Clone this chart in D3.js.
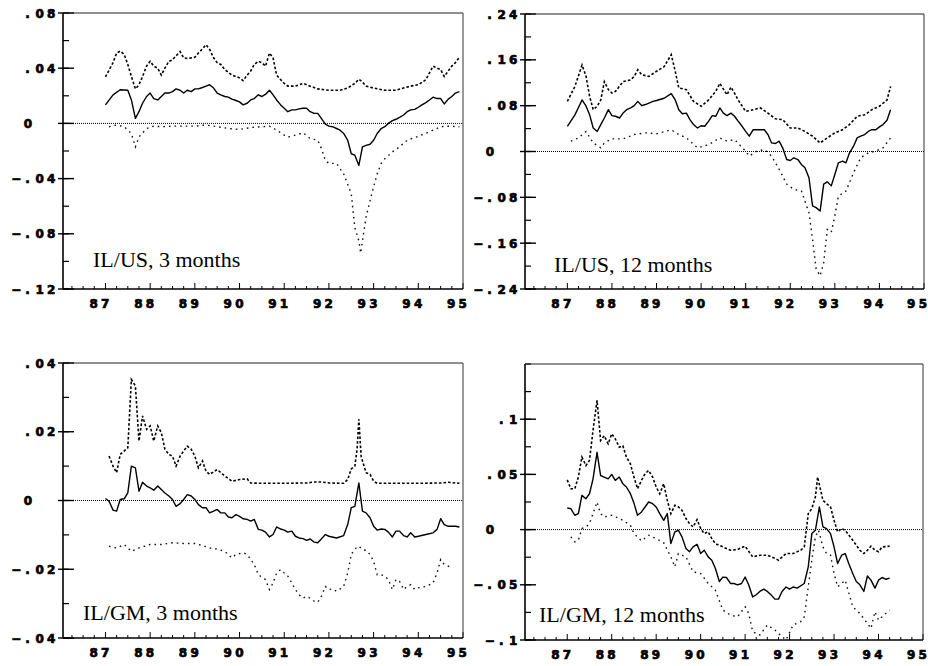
<!DOCTYPE html>
<html>
<head>
<meta charset="utf-8">
<script src="https://cdn.jsdelivr.net/npm/d3@7"></script>
<style>
  body { margin: 0; background: #fff; }
  svg { display: block; }
</style>
</head>
<body>
<svg id="chart" width="928" height="666"></svg>
<script>
// Year ticks shared by all four panels
const yearTicks = [87, 88, 89, 90, 91, 92, 93, 94, 95];

// Panel titles
const panelTitles = ["IL/US, 3 months", "IL/US, 12 months", "IL/GM, 3 months", "IL/GM, 12 months"];

// Y-axis ranges and labelled ticks
const yDomains = [[-0.12, 0.08], [-0.24, 0.24], [-0.04, 0.04], [-0.1, 0.15]];
const yMajorTicks = [
  [-0.12, -0.08, -0.04, 0, 0.04, 0.08],
  [-0.24, -0.16, -0.08, 0, 0.08, 0.16, 0.24],
  [-0.04, -0.02, 0, 0.02, 0.04],
  [-0.1, -0.05, 0, 0.05, 0.1]
];
const yMinorStep = [0.02, 0.04, 0.01, 0.025];

// IL/US, 3 months: estimate, upper band, lower band  ([year, value])
const usMid3 = [[87.0,.0134],[87.17,.0207],[87.33,.0244],[87.5,.024],[87.58,.017],[87.67,.0037],[87.75,.0085],[87.83,.0146],[87.92,.0195],[88.0,.022],[88.08,.018],[88.17,.017],[88.25,.0195],[88.33,.022],[88.42,.022],[88.5,.023],[88.58,.025],[88.67,.024],[88.75,.022],[88.83,.024],[88.92,.023],[89.0,.025],[89.08,.025],[89.17,.026],[89.25,.027],[89.33,.028],[89.42,.0256],[89.5,.022],[89.58,.0207],[89.67,.0195],[89.75,.019],[89.83,.0176],[89.92,.0166],[90.0,.0156],[90.08,.0134],[90.17,.0146],[90.25,.017],[90.33,.018],[90.42,.0207],[90.5,.0195],[90.58,.021],[90.67,.024],[90.75,.0207],[90.83,.017],[90.92,.0134],[91.0,.011],[91.08,.0085],[91.17,.0098],[91.25,.0098],[91.33,.0105],[91.42,.011],[91.5,.011],[91.58,.0085],[91.67,.0073],[91.75,.0073],[91.83,.0037],[91.92,-.0005],[92.0,-.002],[92.08,-.0024],[92.17,-.0037],[92.25,-.0049],[92.33,-.0073],[92.42,-.0122],[92.5,-.022],[92.58,-.023],[92.67,-.0305],[92.75,-.017],[92.83,-.0159],[92.92,-.0151],[93.0,-.0122],[93.08,-.0073],[93.17,-.0037],[93.25,-.0024],[93.33,0],[93.42,.002],[93.5,.003],[93.58,.0044],[93.67,.0061],[93.75,.0085],[93.83,.0098],[93.92,.0102],[94.0,.0117],[94.08,.0134],[94.17,.0151],[94.25,.017],[94.33,.019],[94.42,.018],[94.5,.018],[94.58,.0141],[94.67,.0176],[94.75,.0195],[94.83,.022],[94.92,.023]];
const usUp3 = [[87.0,.0337],[87.17,.044],[87.25,.051],[87.33,.0524],[87.42,.05],[87.5,.0427],[87.58,.034],[87.67,.025],[87.75,.028],[87.83,.034],[87.92,.0415],[88.0,.045],[88.08,.0415],[88.17,.04],[88.25,.035],[88.33,.04],[88.42,.045],[88.5,.046],[88.58,.049],[88.67,.052],[88.75,.0475],[88.83,.047],[88.92,.0475],[89.0,.048],[89.08,.051],[89.17,.054],[89.25,.057],[89.33,.0537],[89.42,.0475],[89.5,.044],[89.58,.0427],[89.67,.039],[89.83,.035],[90.0,.033],[90.08,.031],[90.17,.035],[90.25,.038],[90.33,.0427],[90.42,.045],[90.5,.044],[90.58,.0415],[90.67,.051],[90.75,.0475],[90.83,.035],[90.92,.0317],[91.0,.029],[91.08,.027],[91.25,.027],[91.42,.029],[91.58,.027],[91.75,.025],[92.0,.024],[92.25,.024],[92.42,.0256],[92.58,.029],[92.67,.032],[92.75,.03],[92.83,.027],[93.0,.0256],[93.25,.024],[93.5,.024],[93.67,.0256],[93.83,.027],[94.0,.028],[94.17,.0317],[94.33,.0415],[94.42,.04],[94.5,.039],[94.58,.034],[94.67,.038],[94.75,.0415],[94.83,.044],[94.92,.048]];
const usLo3 = [[87.08,-.0024],[87.25,-.0012],[87.42,-.0024],[87.58,-.0073],[87.67,-.017],[87.75,-.0098],[87.92,-.0037],[88.08,-.002],[88.25,-.0024],[88.5,-.002],[88.75,-.002],[89.0,-.002],[89.25,-.0012],[89.5,-.0024],[89.75,-.0037],[90.0,-.0044],[90.25,-.003],[90.5,-.0024],[90.67,-.002],[90.83,-.0049],[91.0,-.0085],[91.08,-.01],[91.25,-.0085],[91.42,-.0068],[91.58,-.011],[91.75,-.0122],[91.83,-.018],[91.92,-.0268],[92.0,-.029],[92.17,-.029],[92.33,-.0366],[92.5,-.051],[92.58,-.0756],[92.67,-.085],[92.71,-.094],[92.83,-.068],[92.92,-.056],[93.0,-.046],[93.08,-.0366],[93.17,-.029],[93.25,-.0256],[93.42,-.0207],[93.58,-.017],[93.75,-.0122],[94.0,-.0093],[94.25,-.0061],[94.5,-.0024],[94.67,-.002],[94.92,-.0024]];

// IL/US, 12 months
const usMid12 = [[87.0,.044],[87.17,.064],[87.33,.09],[87.42,.079],[87.5,.064],[87.58,.041],[87.67,.035],[87.75,.047],[87.83,.0585],[87.92,.073],[88.0,.0626],[88.08,.0615],[88.17,.0585],[88.25,.067],[88.33,.073],[88.42,.076],[88.5,.08],[88.58,.0875],[88.67,.08],[88.75,.082],[88.83,.0846],[88.92,.0875],[89.0,.089],[89.17,.093],[89.33,.101],[89.42,.09],[89.5,.073],[89.58,.066],[89.67,.067],[89.75,.0557],[89.83,.047],[89.92,.041],[90.0,.045],[90.08,.044],[90.17,.053],[90.25,.0626],[90.33,.0615],[90.42,.076],[90.5,.067],[90.58,.0626],[90.67,.067],[90.75,.0615],[90.83,.053],[90.92,.044],[91.0,.035],[91.08,.0267],[91.17,.038],[91.25,.038],[91.42,.038],[91.5,.0296],[91.58,.015],[91.67,.014],[91.75,.018],[91.83,.0064],[91.92,-.014],[92.0,-.0157],[92.08,-.011],[92.17,-.014],[92.25,-.0226],[92.33,-.0284],[92.42,-.0458],[92.5,-.095],[92.58,-.098],[92.67,-.104],[92.75,-.057],[92.83,-.053],[92.92,-.06],[93.0,-.04],[93.08,-.0197],[93.17,-.0168],[93.25,-.0197],[93.33,-.0023],[93.42,.0093],[93.5,.0238],[93.58,.0267],[93.67,.0296],[93.75,.035],[93.83,.038],[93.92,.038],[94.0,.043],[94.08,.047],[94.17,.0545],[94.25,.073]];
const usUp12 = [[87.0,.0875],[87.17,.1136],[87.33,.151],[87.42,.131],[87.5,.096],[87.58,.073],[87.67,.079],[87.75,.09],[87.83,.122],[87.92,.108],[88.0,.102],[88.08,.105],[88.25,.122],[88.42,.125],[88.5,.131],[88.58,.1426],[88.67,.134],[88.83,.131],[89.0,.14],[89.17,.148],[89.33,.169],[89.42,.14],[89.5,.111],[89.67,.108],[89.83,.0875],[90.0,.079],[90.17,.09],[90.33,.105],[90.42,.119],[90.5,.109],[90.58,.099],[90.67,.1125],[90.75,.102],[90.83,.09],[91.0,.07],[91.17,.073],[91.33,.076],[91.5,.067],[91.67,.057],[91.83,.0557],[92.0,.041],[92.17,.041],[92.33,.035],[92.5,.0267],[92.67,.015],[92.83,.0238],[93.0,.0325],[93.17,.038],[93.33,.047],[93.5,.0615],[93.67,.064],[93.83,.073],[94.0,.079],[94.17,.09],[94.25,.1136]];
const usLo12 = [[87.08,.018],[87.25,.0238],[87.42,.035],[87.58,.015],[87.75,.0064],[87.83,.015],[88.0,.022],[88.25,.022],[88.5,.0296],[88.75,.0325],[89.0,.031],[89.33,.038],[89.5,.0296],[89.67,.0238],[89.92,.0064],[90.17,.012],[90.42,.0238],[90.58,.018],[90.75,.021],[91.0,.0006],[91.08,-.008],[91.25,.0006],[91.42,.0035],[91.58,-.008],[91.75,-.031],[91.92,-.057],[92.08,-.066],[92.25,-.069],[92.42,-.107],[92.5,-.153],[92.58,-.205],[92.67,-.217],[92.75,-.194],[92.83,-.136],[92.92,-.141],[93.0,-.112],[93.08,-.078],[93.25,-.069],[93.42,-.037],[93.58,-.011],[93.75,-.0023],[93.92,.0006],[94.08,.0064],[94.25,.0238]];

// IL/GM, 3 months
const gmMid3 = [[87.0,.0006],[87.08,-.0002],[87.17,-.0028],[87.25,-.0031],[87.33,.0003],[87.42,.0005],[87.5,.0022],[87.58,.01],[87.67,.0095],[87.75,.0027],[87.83,.0053],[87.92,.0042],[88.0,.0037],[88.08,.003],[88.17,.0042],[88.25,.0032],[88.33,.0022],[88.42,.0013],[88.5,.0003],[88.58,-.0017],[88.67,-.0009],[88.75,.0003],[88.83,.0017],[88.92,.0013],[89.0,.0003],[89.08,-.0012],[89.17,-.0021],[89.25,-.0021],[89.33,-.0036],[89.42,-.0031],[89.5,-.0026],[89.58,-.0036],[89.67,-.0036],[89.75,-.0048],[89.83,-.005],[89.92,-.0041],[90.0,-.0046],[90.08,-.0053],[90.17,-.0055],[90.25,-.006],[90.33,-.0055],[90.42,-.0084],[90.5,-.0086],[90.58,-.0092],[90.67,-.0106],[90.75,-.0099],[90.83,-.0077],[90.92,-.0083],[91.0,-.0086],[91.08,-.0092],[91.17,-.0089],[91.25,-.0104],[91.33,-.0109],[91.42,-.0111],[91.5,-.0116],[91.58,-.0112],[91.67,-.0121],[91.75,-.0123],[91.83,-.0112],[91.92,-.0099],[92.0,-.0104],[92.17,-.0109],[92.33,-.0102],[92.42,-.007],[92.5,-.0021],[92.58,-.0017],[92.67,.0051],[92.75,-.0031],[92.83,-.0036],[92.92,-.005],[93.0,-.0075],[93.08,-.0086],[93.17,-.0083],[93.25,-.0084],[93.33,-.0092],[93.42,-.0106],[93.5,-.0089],[93.58,-.0089],[93.67,-.0102],[93.75,-.0106],[93.83,-.0094],[93.92,-.0106],[94.0,-.0104],[94.17,-.0099],[94.33,-.0094],[94.42,-.0084],[94.5,-.0053],[94.58,-.007],[94.67,-.0075],[94.83,-.0075],[94.92,-.0077]];
const gmUp3 = [[87.08,.0129],[87.17,.01],[87.25,.0081],[87.33,.0134],[87.5,.0153],[87.58,.0352],[87.67,.0333],[87.75,.0173],[87.83,.0246],[87.92,.0207],[88.0,.0217],[88.08,.0173],[88.17,.0217],[88.25,.0197],[88.33,.0149],[88.42,.0134],[88.5,.0129],[88.58,.01],[88.67,.0129],[88.75,.0144],[88.83,.0158],[88.92,.0149],[89.0,.0129],[89.08,.0095],[89.17,.0115],[89.25,.0085],[89.33,.0076],[89.5,.009],[89.67,.0071],[89.83,.0056],[90.0,.0061],[90.17,.0063],[90.25,.0051],[90.5,.005],[91.0,.005],[91.5,.0051],[91.67,.0054],[91.83,.0054],[92.0,.0051],[92.33,.005],[92.42,.0061],[92.5,.0092],[92.58,.01],[92.63,.0149],[92.67,.0236],[92.72,.0129],[92.83,.0081],[92.92,.0076],[93.0,.0056],[93.08,.005],[93.5,.005],[94.0,.005],[94.5,.0051],[94.67,.0053],[94.92,.005]];
const gmLo3 = [[87.08,-.0133],[87.25,-.0138],[87.42,-.0128],[87.58,-.0148],[87.75,-.0138],[88.0,-.0128],[88.25,-.0128],[88.5,-.0123],[88.75,-.0125],[89.0,-.0125],[89.17,-.0131],[89.33,-.0138],[89.5,-.0141],[89.67,-.0148],[89.83,-.0167],[89.92,-.0157],[90.08,-.0152],[90.17,-.0157],[90.25,-.0172],[90.33,-.0186],[90.42,-.0216],[90.58,-.023],[90.67,-.0259],[90.75,-.024],[90.83,-.0211],[90.92,-.0201],[91.0,-.0211],[91.08,-.022],[91.17,-.024],[91.25,-.0259],[91.33,-.0274],[91.42,-.0284],[91.5,-.0279],[91.58,-.0284],[91.67,-.0293],[91.75,-.0296],[91.83,-.0279],[91.92,-.025],[92.0,-.0259],[92.08,-.0257],[92.17,-.0264],[92.33,-.025],[92.42,-.0211],[92.5,-.0157],[92.58,-.0141],[92.67,-.0133],[92.75,-.0143],[92.83,-.0145],[92.92,-.0157],[93.0,-.0177],[93.08,-.0216],[93.17,-.0216],[93.25,-.022],[93.33,-.023],[93.42,-.0259],[93.5,-.023],[93.58,-.0235],[93.67,-.0259],[93.75,-.025],[93.83,-.0245],[93.92,-.0259],[94.0,-.0254],[94.17,-.025],[94.33,-.024],[94.42,-.0211],[94.5,-.0172],[94.58,-.0186],[94.67,-.0191],[94.75,-.0196]];

// IL/GM, 12 months
const gmMid12 = [[87.0,.0196],[87.08,.019],[87.17,.013],[87.25,.0145],[87.33,.031],[87.42,.028],[87.5,.0325],[87.58,.046],[87.67,.07],[87.75,.049],[87.83,.0476],[87.92,.046],[88.0,.05],[88.08,.0446],[88.17,.0476],[88.25,.0416],[88.33,.0386],[88.42,.0325],[88.5,.024],[88.58,.013],[88.67,.016],[88.75,.0205],[88.83,.025],[88.92,.0235],[89.0,.0205],[89.08,.0145],[89.17,.0084],[89.25,.0145],[89.33,-.0127],[89.42,-.002],[89.5,-.0006],[89.58,-.0066],[89.67,-.0172],[89.75,-.02],[89.83,-.0157],[89.92,-.0133],[90.0,-.0217],[90.08,-.0187],[90.17,-.0247],[90.25,-.0277],[90.33,-.035],[90.42,-.047],[90.5,-.043],[90.58,-.0434],[90.67,-.0488],[90.75,-.0488],[90.83,-.05],[90.92,-.0488],[91.0,-.043],[91.08,-.05],[91.17,-.061],[91.25,-.059],[91.33,-.056],[91.42,-.054],[91.5,-.056],[91.58,-.059],[91.67,-.063],[91.75,-.063],[91.83,-.056],[91.92,-.052],[92.0,-.054],[92.08,-.052],[92.17,-.053],[92.33,-.0488],[92.42,-.0337],[92.5,-.0036],[92.58,-.0006],[92.67,.0205],[92.75,.0024],[92.83,.0009],[92.92,-.0036],[93.0,-.0157],[93.08,-.0307],[93.17,-.0232],[93.25,-.0217],[93.33,-.0307],[93.42,-.0398],[93.5,-.047],[93.58,-.05],[93.67,-.056],[93.75,-.042],[93.83,-.0458],[93.92,-.053],[94.0,-.0458],[94.08,-.0434],[94.17,-.045],[94.25,-.044]];
const gmUp12 = [[87.0,.045],[87.08,.037],[87.17,.037],[87.25,.0476],[87.33,.0657],[87.42,.058],[87.5,.0627],[87.58,.09],[87.67,.117],[87.75,.0807],[87.83,.085],[87.92,.0777],[88.0,.0867],[88.08,.0822],[88.17,.0747],[88.25,.076],[88.33,.0657],[88.42,.0596],[88.5,.0476],[88.58,.037],[88.67,.0446],[88.75,.0506],[88.83,.0536],[88.92,.0476],[89.0,.0386],[89.08,.0325],[89.17,.0416],[89.25,.0265],[89.33,.0145],[89.42,.022],[89.5,.0205],[89.58,.0175],[89.67,.01],[89.75,.0054],[89.83,.0024],[89.92,.009],[90.0,.001],[90.08,-.0036],[90.17,-.002],[90.25,-.0081],[90.33,-.0127],[90.5,-.0157],[90.67,-.0187],[90.83,-.018],[91.0,-.015],[91.17,-.0247],[91.33,-.0232],[91.5,-.0232],[91.67,-.026],[91.75,-.0277],[91.92,-.0217],[92.08,-.0217],[92.25,-.0187],[92.33,-.0157],[92.42,.0145],[92.5,.019],[92.58,.0295],[92.63,.0476],[92.75,.0265],[92.83,.0235],[92.92,.0205],[93.0,.0084],[93.08,-.002],[93.17,.001],[93.25,-.0006],[93.42,-.0096],[93.58,-.0187],[93.67,-.0217],[93.75,-.0187],[93.83,-.015],[93.92,-.0187],[94.0,-.02],[94.08,-.0157],[94.25,-.015]];
const gmLo12 = [[87.08,-.0066],[87.17,-.0111],[87.25,-.0096],[87.33,.001],[87.42,.0024],[87.5,.0054],[87.58,.0145],[87.67,.025],[87.75,.0145],[87.83,.0114],[88.0,.013],[88.17,.01],[88.25,.0084],[88.42,.0039],[88.5,-.0036],[88.67,-.0102],[88.83,-.0051],[89.0,-.0081],[89.17,-.012],[89.33,-.0247],[89.42,-.0337],[89.5,-.0217],[89.67,-.0247],[89.83,-.0383],[90.0,-.0398],[90.17,-.0488],[90.33,-.0548],[90.5,-.0729],[90.67,-.0774],[90.83,-.079],[91.0,-.0699],[91.08,-.076],[91.17,-.0925],[91.33,-.0955],[91.5,-.0864],[91.67,-.091],[91.83,-.097],[91.92,-.1],[92.08,-.0864],[92.25,-.0834],[92.33,-.079],[92.42,-.0518],[92.5,-.0277],[92.58,-.0066],[92.65,-.0006],[92.75,-.0157],[92.83,-.0217],[92.92,-.0232],[93.0,-.0398],[93.08,-.0518],[93.17,-.0488],[93.25,-.0458],[93.42,-.0699],[93.58,-.076],[93.75,-.085],[93.83,-.0895],[93.92,-.0744],[94.0,-.082],[94.08,-.079],[94.25,-.0729]];

const panelSeries = [
  { mid: usMid3, up: usUp3, lo: usLo3 },
  { mid: usMid12, up: usUp12, lo: usLo12 },
  { mid: gmMid3, up: gmUp3, lo: gmLo3 },
  { mid: gmMid12, up: gmUp12, lo: gmLo12 }
];

// Frame boxes for the 2x2 grid
const frames = [
  { left: 63, right: 463, top: 13, bottom: 289, titleDx: 30, titleDy: -22 },
  { left: 525, right: 924, top: 14, bottom: 289, titleDx: 29, titleDy: -17 },
  { left: 63, right: 463, top: 363, bottom: 638, titleDx: 20, titleDy: -18 },
  { left: 525, right: 923, top: 364, bottom: 640, titleDx: 14, titleDy: -18 }
];

const svg = d3.select("#chart");
const tickFont = "'DejaVu Sans', sans-serif";
const cell = 11.6;          // character cell of tick labels
const fontPx = 12;
const glyphW = fontPx * 0.696;
const letterSpace = cell - glyphW;

function fmtY(v) {
  if (Math.abs(v) < 1e-9) return "0";
  const s = String(+v.toFixed(3)).replace("0.", ".");
  return s.replace("-", "\u2212");
}

// bold, heavy label text
function tickText(sel) {
  sel.attr("font-family", tickFont).attr("font-weight", "bold")
    .attr("font-size", fontPx)
    .attr("fill", "#000").attr("stroke", "#000").attr("stroke-width", 0.7);
}

frames.forEach((f, i) => {
  const g = svg.append("g");
  const x = d3.scaleLinear().domain([86.05, 95]).range([f.left, f.right]);
  const y = d3.scaleLinear().domain(yDomains[i]).range([f.bottom, f.top]);

  // x-axis: quarterly minor ticks, taller ticks at each year
  const quarters = d3.range(86.25, 95.001, 0.25).filter(q => x(q) > f.left + 1);
  g.selectAll(".xq").data(quarters).join("line")
    .attr("x1", d => x(d)).attr("x2", d => x(d))
    .attr("y1", f.bottom).attr("y2", d => f.bottom - (Math.abs(d - Math.round(d)) < 1e-6 ? 6 : 3))
    .attr("stroke", "#000").attr("stroke-width", 1);

  // year labels: each digit placed in its own cell
  yearTicks.forEach(yr => {
    const str = String(yr);
    const x0 = Math.min(x(yr) - 16, 928 - 2 * cell + letterSpace - 1);
    g.append("g").selectAll("text").data(str.split("")).join("text")
      .attr("x", (c, k) => x0 + k * cell).attr("y", f.bottom + 19)
      .call(tickText).text(c => c);
  });

  // y-axis minor and major ticks
  const [y0, y1] = yDomains[i];
  const step = yMinorStep[i];
  const minors = d3.range(Math.round(y0 / step), Math.round(y1 / step) + 1).map(k => k * step);
  g.selectAll(".ym").data(minors).join("line")
    .attr("x1", f.left).attr("x2", f.left + 6)
    .attr("y1", d => y(d)).attr("y2", d => y(d))
    .attr("stroke", "#000").attr("stroke-width", 1.2);
  g.selectAll(".yM").data(yMajorTicks[i]).join("line")
    .attr("x1", f.left - 5).attr("x2", f.left + 11)
    .attr("y1", d => y(d)).attr("y2", d => y(d))
    .attr("stroke", "#000").attr("stroke-width", 1.4);

  // y tick labels in a 4-character field; zero sits in the decimal-point cell
  const fieldEnd = f.left - 6;
  yMajorTicks[i].forEach(v => {
    const s = fmtY(v);
    const chars = s.split("");
    const startCell = s === "0" ? 1 : 4 - chars.length;
    g.append("g").selectAll("text").data(chars).join("text")
      .attr("x", (c, k) => fieldEnd - (4 - startCell - k) * cell + letterSpace / 2 + (c === "." ? 1.5 : 0) + (c === "\u2212" ? -1 : 0))
      .attr("y", y(v) + 4.5)
      .call(tickText).text(c => c);
  });

  // frame
  g.append("line").attr("x1", f.left).attr("x2", f.right).attr("y1", f.top).attr("y2", f.top)
    .attr("stroke", "#222").attr("stroke-width", 1.2);
  g.append("line").attr("x1", f.right).attr("x2", f.right).attr("y1", f.top).attr("y2", f.bottom)
    .attr("stroke", "#333").attr("stroke-width", 1);
  g.append("line").attr("x1", f.left).attr("x2", f.left).attr("y1", f.top).attr("y2", f.bottom)
    .attr("stroke", "#000").attr("stroke-width", 1.6);
  g.append("line").attr("x1", f.left).attr("x2", f.right).attr("y1", f.bottom).attr("y2", f.bottom)
    .attr("stroke", "#000").attr("stroke-width", 1.6);

  // zero reference line
  g.append("line").attr("x1", f.left).attr("x2", f.right).attr("y1", y(0)).attr("y2", y(0))
    .attr("stroke", "#000").attr("stroke-width", 1).attr("stroke-dasharray", "1,1");

  const line = d3.line().x(d => x(d[0])).y(d => y(d[1]));
  const s = panelSeries[i];

  g.append("path").datum(s.lo).attr("d", line)
    .attr("fill", "none").attr("stroke", "#111").attr("stroke-width", 1.4)
    .attr("stroke-dasharray", "1.6,4");
  g.append("path").datum(s.up).attr("d", line)
    .attr("fill", "none").attr("stroke", "#000").attr("stroke-width", 1.6)
    .attr("stroke-dasharray", "2.6,2");
  g.append("path").datum(s.mid).attr("d", line)
    .attr("fill", "none").attr("stroke", "#000").attr("stroke-width", 1.4)
    .attr("stroke-linejoin", "round");

  // panel title
  g.append("text")
    .attr("x", f.left + f.titleDx).attr("y", f.bottom + f.titleDy)
    .attr("font-family", "'Liberation Serif', 'Times New Roman', serif")
    .attr("font-size", 22).attr("fill", "#000")
    .text(panelTitles[i]);
});
</script>
</body>
</html>
